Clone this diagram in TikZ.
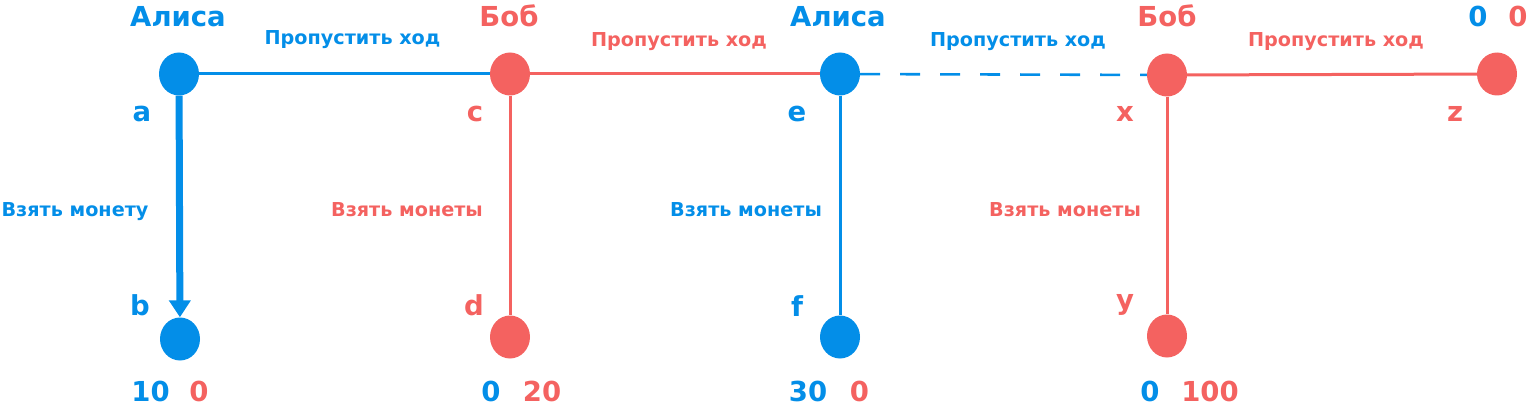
\documentclass[tikz,border=0pt]{standalone}
\usepackage{fontspec}
\setmainfont{DejaVu Sans}
\usetikzlibrary{shapes.geometric,arrows.meta}
\definecolor{pblue}{RGB}{3,142,232}
\definecolor{pred}{RGB}{244,98,96}
\tikzset{
  dot/.style={ellipse,minimum width=40pt,minimum height=43pt,inner sep=0pt,fill=#1,draw=none},
  big/.style={font=\bfseries\fontsize{27.5}{30}\selectfont,inner sep=0pt,anchor=base},
  small/.style={font=\bfseries\fontsize{19.2}{22}\selectfont,inner sep=0pt,anchor=base},
  edge/.style={line width=3pt,#1},
}
\begin{document}
\begin{tikzpicture}[x=1pt,y=-1pt]
\useasboundingbox (0,0) rectangle (1532,409);
% decision nodes
\node[dot=pblue] (a) at (179,74) {};
\node[dot=pblue] (b) at (180,339) {};
\node[dot=pred] (c) at (510,74) {};
\node[dot=pred] (d) at (510,337) {};
\node[dot=pblue] (e) at (840,74) {};
\node[dot=pblue] (f) at (840,337) {};
\node[dot=pred] (x) at (1167,75) {};
\node[dot=pred] (y) at (1167,336) {};
\node[dot=pred] (z) at (1497,74) {};
% edges
\draw[edge=pblue] (a) -- (c);
\draw[edge=pred] (c) -- (e);
\draw[line width=2.6pt,pblue,dash pattern=on 20pt off 20pt] (e) -- (x);
\draw[edge=pred] (x) -- (z);
\draw[line width=7pt,pblue,-{Triangle[width=21pt,length=17pt]}] (a) -- (b);
\draw[edge=pred] (c) -- (d);
\draw[edge=pblue] (e) -- (f);
\draw[edge=pred] (x) -- (y);
% player titles
\node[big,pblue] (t1) at (178,26.5) {Алиса};
\node[big,pred] (t2) at (509,26.5) {Боб};
\node[big,pblue] (t3) at (838,26.5) {Алиса};
\node[big,pred] (t4) at (1167,26.5) {Боб};
\node[big,pblue] (zp1) at (1478,26.5) {0};
\node[big,pred] (zp2) at (1518,26.5) {0};
% move labels
\node[small,pblue] (m1) at (352.5,45) {Пропустить ход};
\node[small,pred] (m2) at (679,47) {Пропустить ход};
\node[small,pblue] (m3) at (1018,47) {Пропустить ход};
\node[small,pred] (m4) at (1336,47) {Пропустить ход};
\node[small,pblue] (v1) at (75,216) {Взять монету};
\node[small,pred] (v2) at (407,216) {Взять монеты};
\node[small,pblue] (v3) at (746,216) {Взять монеты};
\node[small,pred] (v4) at (1065,216) {Взять монеты};
% node letters
\node[big,pblue] (la) at (142,122) {a};
\node[big,pred] (lc) at (475,122) {c};
\node[big,pblue] (le) at (797,122) {e};
\node[big,pred] (lx) at (1125,122) {x};
\node[big,pred] (lz) at (1455,122) {z};
\node[big,pblue] (lb) at (140,315) {b};
\node[big,pred] (ld) at (474,315) {d};
\node[big,pblue] (lf) at (797,316) {f};
\node[big,pred] (ly) at (1125,309) {y};
% payoffs
\node[big,pblue] (p1) at (150.5,401) {10};
\node[big,pred] (p2) at (199,401) {0};
\node[big,pblue] (p3) at (491,401) {0};
\node[big,pred] (p4) at (542,401) {20};
\node[big,pblue] (p5) at (808,401) {30};
\node[big,pred] (p6) at (859.5,401) {0};
\node[big,pblue] (p7) at (1150,401) {0};
\node[big,pred] (p8) at (1210,401) {100};
\end{tikzpicture}
\end{document}
